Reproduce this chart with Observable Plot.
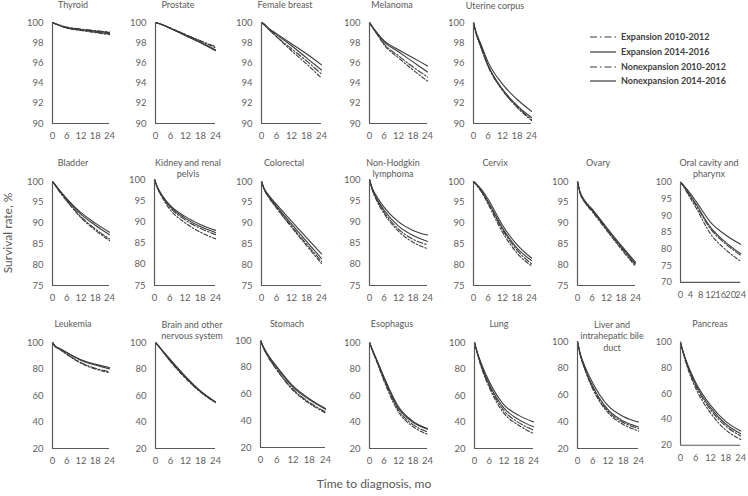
<!DOCTYPE html>
<html>
<head>
<meta charset="utf-8">
<script src="https://cdn.jsdelivr.net/npm/d3@7"></script>
<script src="https://cdn.jsdelivr.net/npm/@observablehq/plot@0.6"></script>
<style>
  html, body { margin: 0; padding: 0; background: #fff; }
  #root { position: relative; width: 748px; height: 496px; overflow: hidden; font-family: Lato, "Open Sans", sans-serif; }
  .panel { position: absolute; }
  .title { position: absolute; font-size: 9px; color: #595959; white-space: nowrap; transform: translate(-50%, -50%); text-align: center; line-height: 11.5px; }
  .axtitle { position: absolute; font-size: 12px; font-weight: 400; color: #595959; white-space: nowrap; }
  .leg { position: absolute; font-size: 9px; font-weight: bold; color: #404040; white-space: nowrap; }
</style>
</head>
<body>
<div id="root"></div>
<script>
// ---------- data ----------
const cancers = ["Thyroid", "Prostate", "Female breast", "Melanoma", "Uterine corpus",
  "Bladder", "Kidney and renal pelvis", "Colorectal", "Non-Hodgkin lymphoma", "Cervix", "Ovary", "Oral cavity and pharynx",
  "Leukemia", "Brain and other nervous system", "Stomach", "Esophagus", "Lung", "Liver and intrahepatic bile duct", "Pancreas"];
const titleLines = [["Thyroid"], ["Prostate"], ["Female breast"], ["Melanoma"], ["Uterine corpus"],
  ["Bladder"], ["Kidney and renal", "pelvis"], ["Colorectal"], ["Non-Hodgkin", "lymphoma"], ["Cervix"], ["Ovary"], ["Oral cavity and", "pharynx"],
  ["Leukemia"], ["Brain and other", "nervous system"], ["Stomach"], ["Esophagus"], ["Lung"], ["Liver and", "intrahepatic bile", "duct"], ["Pancreas"]];
const seriesNames = ["Expansion 2010-2012", "Expansion 2014-2016", "Nonexpansion 2010-2012", "Nonexpansion 2014-2016"];
const months = [0, 1, 3, 6, 12, 18, 24];

const expansion2010 = [
  [100, 99.9, 99.75, 99.55, 99.35, 99.2, 99.05],
  [100, 99.93, 99.75, 99.45, 98.8, 98.2, 97.6],
  [100, 99.8, 99.3, 98.6, 97.4, 96.2, 94.9],
  [100, 99.6, 98.9, 97.9, 96.7, 95.6, 94.6],
  [100, 99.0, 97.6, 95.7, 93.3, 91.7, 90.4],
  [100, 99.2, 97.6, 95.4, 91.5, 88.6, 86.2],
  [100, 98.3, 96.0, 93.5, 90.5, 88.5, 87.0],
  [100, 98.2, 96.2, 93.8, 89.3, 85.0, 80.8],
  [100, 97.9, 95.3, 92.4, 88.3, 85.9, 84.6],
  [100, 99.4, 97.9, 95.0, 88.4, 83.5, 80.2],
  [100, 97.4, 95.1, 93.0, 88.5, 84.1, 79.9],
  [100, 99.1, 96.8, 93.3, 86.0, 81.5, 78.1],
  [100, 97.3, 95.0, 91.3, 84.8, 80.6, 77.9],
  [100, 97.9, 93.2, 86.5, 74.0, 63.2, 54.8],
  [100, 95.0, 87.5, 78.5, 63.5, 53.8, 46.6],
  [100, 95.0, 86.0, 72.0, 49.0, 38.0, 32.6],
  [100, 92.8, 81.0, 67.5, 48.5, 39.5, 33.8],
  [100, 90.8, 79.0, 65.5, 48.0, 39.5, 34.9],
  [100, 92.5, 80.5, 66.5, 47.5, 35.0, 27.2]
];
const expansion2014 = [
  [100, 99.9, 99.72, 99.5, 99.3, 99.15, 99.0],
  [100, 99.93, 99.75, 99.4, 98.75, 98.05, 97.3],
  [100, 99.85, 99.4, 98.9, 97.9, 96.9, 95.8],
  [100, 99.65, 99.0, 98.2, 97.3, 96.5, 95.7],
  [100, 99.1, 97.9, 96.1, 93.9, 92.4, 91.2],
  [100, 99.3, 97.9, 95.9, 92.5, 90.0, 87.8],
  [100, 98.4, 96.3, 94.0, 91.3, 89.4, 88.0],
  [100, 98.4, 96.6, 94.5, 90.5, 86.5, 82.6],
  [100, 98.2, 96.0, 93.5, 90.0, 88.0, 86.9],
  [100, 99.5, 98.3, 95.8, 89.5, 84.8, 81.6],
  [100, 97.6, 95.4, 93.4, 89.0, 84.7, 80.6],
  [100, 99.3, 97.5, 94.5, 88.0, 84.2, 81.4],
  [100, 97.5, 95.5, 92.5, 87.0, 83.7, 81.1],
  [100, 98.0, 93.5, 87.0, 74.5, 63.5, 55.2],
  [100, 95.5, 88.5, 80.5, 66.0, 56.5, 49.1],
  [100, 95.5, 87.0, 74.0, 51.5, 40.5, 35.1],
  [100, 93.5, 83.0, 70.5, 53.0, 45.0, 40.1],
  [100, 91.5, 81.0, 69.0, 52.0, 44.0, 39.8],
  [100, 93.0, 82.0, 69.0, 51.0, 38.5, 31.0]
];
const nonexpansion2010 = [
  [100, 99.88, 99.7, 99.45, 99.2, 99.0, 98.8],
  [100, 99.93, 99.75, 99.45, 98.8, 98.15, 97.5],
  [100, 99.8, 99.3, 98.6, 97.2, 95.9, 94.5],
  [100, 99.6, 98.9, 97.8, 96.5, 95.3, 94.2],
  [100, 99.0, 97.6, 95.7, 93.3, 91.6, 90.3],
  [100, 99.2, 97.5, 95.3, 91.3, 88.3, 85.8],
  [100, 98.2, 95.8, 93.0, 89.8, 87.6, 86.0],
  [100, 98.2, 96.1, 93.6, 89.0, 84.6, 80.3],
  [100, 97.8, 95.0, 92.0, 87.8, 85.2, 83.7],
  [100, 99.3, 97.7, 94.6, 87.8, 82.8, 79.7],
  [100, 97.3, 95.0, 92.8, 88.3, 83.8, 79.6],
  [100, 99.0, 96.4, 92.6, 84.5, 79.8, 76.3],
  [100, 97.2, 94.8, 91.0, 84.3, 80.0, 77.1],
  [100, 97.7, 92.8, 85.5, 73.0, 62.5, 54.5],
  [100, 94.8, 87.0, 78.0, 62.8, 53.0, 45.8],
  [100, 94.8, 85.5, 71.0, 47.5, 36.5, 30.8],
  [100, 92.5, 80.0, 66.0, 46.5, 37.5, 31.3],
  [100, 90.5, 78.5, 64.5, 46.8, 38.0, 33.1],
  [100, 92.0, 79.0, 64.5, 45.0, 32.0, 24.5]
];
const nonexpansion2014 = [
  [100, 99.88, 99.7, 99.45, 99.25, 99.05, 98.9],
  [100, 99.93, 99.75, 99.4, 98.7, 98.0, 97.2],
  [100, 99.85, 99.35, 98.8, 97.7, 96.5, 95.3],
  [100, 99.65, 99.0, 98.1, 97.1, 96.1, 95.1],
  [100, 99.0, 97.7, 95.8, 93.4, 91.8, 90.6],
  [100, 99.3, 97.8, 95.7, 92.1, 89.5, 87.2],
  [100, 98.3, 96.1, 93.7, 90.9, 88.9, 87.5],
  [100, 98.3, 96.4, 94.1, 89.8, 85.6, 81.5],
  [100, 98.0, 95.5, 92.8, 89.0, 86.8, 85.4],
  [100, 99.4, 98.0, 95.2, 88.8, 84.0, 81.0],
  [100, 97.5, 95.2, 93.2, 88.7, 84.4, 80.2],
  [100, 99.2, 97.0, 93.7, 86.5, 82.0, 78.6],
  [100, 97.4, 95.3, 92.2, 86.5, 83.0, 80.1],
  [100, 97.8, 93.0, 86.0, 73.5, 63.0, 55.0],
  [100, 95.3, 88.0, 79.8, 65.0, 55.8, 48.5],
  [100, 95.3, 86.5, 73.0, 50.5, 39.8, 34.5],
  [100, 93.0, 81.5, 68.5, 50.5, 41.8, 36.4],
  [100, 91.0, 79.5, 66.5, 49.0, 40.5, 36.1],
  [100, 92.7, 81.0, 67.5, 49.0, 36.5, 29.0]
];

const yTicksRow1 = [90, 92, 94, 96, 98, 100];
const yTicksRow2 = [75, 80, 85, 90, 95, 100];
const yTicksOral = [70, 75, 80, 85, 90, 95, 100];
const yTicksRow3 = [20, 40, 60, 80, 100];
const xTicks = [0, 6, 12, 18, 24];
const xTicksOral = [0, 4, 8, 12, 16, 20, 24];

// ---------- layout (pixel positions of each panel's axes) ----------
// [x0, x1, yTop, yBottom, titleCenterX, titleY]
const layout = [
  [52, 109, 22, 123, 73, 5], [155, 215, 22, 123, 178, 5], [261, 321, 22, 123, 285, 5], [369, 427, 22, 123, 392, 5], [473, 531, 22, 123, 495, 6],
  [52, 109, 181, 285, 73, 163], [154, 215, 179, 285, 188, 162], [261, 321, 181, 285, 284, 163], [369, 427, 179, 285, 393, 162],
  [473, 531, 181, 285, 495, 163], [577, 635, 181, 285, 598, 163], [681, 743, 182, 285, 709, 162],
  [52, 109, 342, 448, 73, 324], [155, 215, 342, 448, 192, 324], [260, 325, 340, 447, 287, 324], [369, 427, 342, 448, 392, 324],
  [474, 533, 342, 448, 499, 324], [577, 638, 341, 448, 612, 324], [681, 743, 342, 448, 710, 324]
];
const seriesStyle = {
  "Expansion 2010-2012": {dash: "6,2,1.5,2"},
  "Expansion 2014-2016": {dash: null},
  "Nonexpansion 2010-2012": {dash: "4,2,1.5,2"},
  "Nonexpansion 2014-2016": {dash: null}
};
const lineColor = "#3a3a3a";
const axisColor = "#595959";

// ---------- build rows ----------
const seriesArrays = [expansion2010, expansion2014, nonexpansion2010, nonexpansion2014];
const rows = [];
cancers.forEach((c, ci) => {
  seriesNames.forEach((s, si) => {
    months.forEach((m, mi) => rows.push({cancer: c, series: s, month: m, value: seriesArrays[si][ci][mi]}));
  });
});

const root = document.getElementById("root");
const mL = 34, mR = 8, mT = 6, mB = 24;

cancers.forEach((c, ci) => {
  const [x0, x1, yT, yB, tx, ty] = layout[ci];
  const yTicks = ci < 5 ? yTicksRow1 : ci === 11 ? yTicksOral : ci < 12 ? yTicksRow2 : yTicksRow3;
  const xt = ci === 11 ? xTicksOral : xTicks;
  const ymin = yTicks[0];
  const data = rows.filter(d => d.cancer === c);
  const chart = Plot.plot({
    width: (x1 - x0) + mL + mR,
    height: (yB - yT) + mT + mB,
    marginLeft: mL, marginRight: mR, marginTop: mT, marginBottom: mB,
    style: {fontFamily: "Lato, 'Open Sans', sans-serif", fontSize: "9.5px", color: "#5f5f5f", background: "transparent", overflow: "visible"},
    x: {domain: [0, 24], axis: null},
    y: {domain: [ymin, 100], axis: null},
    marks: [
      Plot.axisX(xt, {tickSize: 0, tickPadding: 9, label: null}),
      Plot.axisY(yTicks, {tickSize: 0, tickPadding: 9, label: null}),
      ...seriesNames.map(s => Plot.line(data.filter(d => d.series === s), {
        x: "month", y: "value", curve: "monotone-x", stroke: lineColor, strokeWidth: 1.1,
        strokeDasharray: seriesStyle[s].dash || undefined
      })),
      Plot.ruleX([0], {stroke: axisColor, strokeWidth: 1.2}),
      Plot.ruleY([ymin], {stroke: axisColor, strokeWidth: 1.2})
    ]
  });
  const wrap = document.createElement("div");
  wrap.className = "panel";
  wrap.style.left = (x0 - mL) + "px";
  wrap.style.top = (yT - mT) + "px";
  wrap.appendChild(chart);
  root.appendChild(wrap);

  const t = document.createElement("div");
  t.className = "title";
  t.style.left = tx + "px";
  const nLines = titleLines[ci].length;
  t.style.top = (ty + (nLines - 1) * 11.5 / 2) + "px";
  t.innerHTML = titleLines[ci].join("<br>");
  root.appendChild(t);
});

// legend
const legY = [36, 51, 66, 80];
seriesNames.forEach((s, i) => {
  const d = document.createElement("div");
  d.className = "leg";
  d.style.left = "590px";
  d.style.top = (legY[i] - 6) + "px";
  const dash = seriesStyle[s].dash;
  d.innerHTML = `<svg width="28" height="12" style="vertical-align:middle"><line x1="0" x2="26" y1="6" y2="6" stroke="${lineColor}" stroke-width="1.2" ${dash ? `stroke-dasharray="7,3,1.5,3"` : ""}/></svg><span style="vertical-align:middle;margin-left:3px">${s}</span>`;
  root.appendChild(d);
});

// axis titles
const yt = document.createElement("div");
yt.className = "axtitle";
yt.textContent = "Survival rate, %";
yt.style.left = "7px"; yt.style.top = "233px";
yt.style.transform = "translate(-50%, -50%) rotate(-90deg)";
root.appendChild(yt);

const xtl = document.createElement("div");
xtl.className = "axtitle";
xtl.textContent = "Time to diagnosis, mo";
xtl.style.left = "374px"; xtl.style.top = "483px";
xtl.style.transform = "translate(-50%, -50%)";
root.appendChild(xtl);
</script>
</body>
</html>
